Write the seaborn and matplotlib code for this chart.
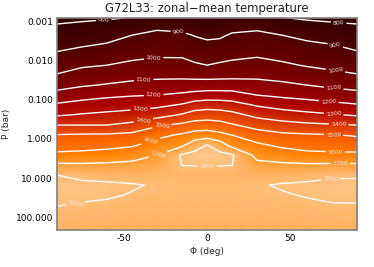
import numpy as np
import seaborn as sns
import matplotlib
matplotlib.use("Agg")
import matplotlib.pyplot as plt
from matplotlib.colors import LinearSegmentedColormap

# ---------------- data ----------------
latitudes = [-90, -75, -60, -45, -30, -15, -7.5, 0, 7.5, 15, 30, 45, 60, 75, 90]
pressures = [0.00079, 0.00126, 0.00227, 0.00408, 0.00733, 0.0132, 0.0237,
             0.0425, 0.0763, 0.137, 0.246, 0.443, 0.796, 1.43, 2.57, 4.62,
             8.29, 14.9, 26.8, 48.1, 86.4, 221.0]

# temperature profiles (K) at each latitude, top -> bottom
T_m90 = [775, 804, 839, 875, 914, 959, 1006, 1065, 1133, 1215, 1292, 1400, 1505, 1558, 1620, 1717, 1800, 1815, 1815, 1802, 1785, 1765]
T_m75 = [782, 814, 853, 892, 939, 988, 1038, 1090, 1162, 1236, 1309, 1400, 1511, 1563, 1627, 1714, 1786, 1812, 1810, 1796, 1782, 1765]
T_m60 = [789, 823, 866, 909, 955, 1000, 1053, 1107, 1181, 1252, 1323, 1400, 1512, 1571, 1642, 1718, 1779, 1810, 1806, 1792, 1780, 1765]
T_m45 = [800, 844, 900, 938, 977, 1020, 1068, 1124, 1193, 1264, 1338, 1425, 1525, 1588, 1662, 1724, 1771, 1805, 1797, 1787, 1778, 1765]
T_m30 = [821, 876, 922, 956, 990, 1032, 1077, 1133, 1200, 1277, 1364, 1486, 1575, 1641, 1700, 1745, 1780, 1795, 1790, 1783, 1776, 1765]
T_m15 = [826, 868, 915, 952, 989, 1032, 1077, 1138, 1218, 1310, 1411, 1520, 1613, 1680, 1810, 1801, 1778, 1788, 1787, 1781, 1775, 1765]
T_m08 = [827, 858, 896, 933, 970, 1012, 1071, 1142, 1233, 1344, 1445, 1540, 1640, 1757, 1825, 1802, 1776, 1786, 1786, 1780, 1775, 1765]
T_p00 = [818, 846, 882, 920, 960, 1000, 1067, 1145, 1244, 1356, 1455, 1545, 1650, 1802, 1835, 1803, 1775, 1785, 1785, 1780, 1775, 1765]
T_p08 = [821, 850, 886, 925, 967, 1012, 1071, 1145, 1244, 1353, 1448, 1536, 1627, 1750, 1825, 1802, 1776, 1786, 1786, 1780, 1775, 1765]
T_p15 = [825, 865, 910, 945, 979, 1021, 1074, 1145, 1240, 1340, 1431, 1509, 1600, 1667, 1810, 1801, 1778, 1788, 1787, 1781, 1775, 1765]
T_p30 = [820, 873, 921, 956, 991, 1033, 1078, 1133, 1200, 1291, 1375, 1464, 1546, 1617, 1672, 1725, 1770, 1795, 1791, 1784, 1777, 1765]
T_p45 = [800, 844, 900, 937, 974, 1015, 1065, 1119, 1181, 1261, 1348, 1436, 1519, 1581, 1650, 1717, 1772, 1805, 1796, 1787, 1778, 1765]
T_p60 = [785, 825, 875, 919, 956, 993, 1044, 1100, 1167, 1242, 1327, 1420, 1511, 1563, 1627, 1713, 1780, 1810, 1803, 1792, 1780, 1765]
T_p75 = [777, 814, 859, 904, 941, 978, 1023, 1080, 1148, 1225, 1310, 1410, 1505, 1558, 1620, 1715, 1792, 1814, 1810, 1797, 1783, 1765]
T_p90 = [775, 804, 841, 878, 917, 961, 1006, 1065, 1131, 1208, 1292, 1400, 1491, 1553, 1620, 1715, 1792, 1815, 1812, 1797, 1784, 1765]

contour_levels = [800, 900, 1000, 1100, 1200, 1300, 1400, 1500, 1600, 1700, 1800]
ytick_values = [0.001, 0.01, 0.1, 1.0, 10.0, 100.0]
ytick_labels = ["0.001", "0.010", "0.100", "1.000", "10.000", "100.000"]
xtick_values = [-50, 0, 50]

title = "G72L33: zonal\u2212mean temperature"
xlabel = "\u03a6 (deg)"
ylabel = "P (bar)"

# ---------------- style ----------------
sns.set_style("ticks")
plt.rcParams["font.family"] = ["DejaVu Sans"]

T = np.column_stack([T_m90, T_m75, T_m60, T_m45, T_m30, T_m15, T_m08, T_p00,
                     T_p08, T_p15, T_p30, T_p45, T_p60, T_p75, T_p90]).astype(float)
lat = np.array(latitudes, float)
logp = np.log10(np.array(pressures, float))

# IDL "red temperature" style colour table
cmap = LinearSegmentedColormap.from_list(
    "redtemp",
    [(0.0, (0, 0, 0)),
     (120 / 255, (174 / 255, 0, 0)),
     (176 / 255, (1, 106 / 255, 0)),
     (190 / 255, (1, 132 / 255, 0)),
     (1.0, (1, 1, 1))])

fig = plt.figure(figsize=(3.74, 2.67), dpi=100)
ax = fig.add_axes([57 / 374, 1 - 230 / 267, 300 / 374, 212 / 267])

ax.pcolormesh(lat, logp, T, shading="gouraud", cmap=cmap, vmin=600, vmax=1990,
              rasterized=True)
cs = ax.contour(lat, logp, T, levels=contour_levels, colors="white",
                linewidths=1.0)

label_pos = [(-62, -3.05), (-17, -2.80), (-32, -2.06), (-38, -1.50), (-32, -1.09),
             (-40, -0.74), (-38, -0.43), (-27, -0.30), (-34, 0.03), (-30, 0.33),
             (-79, 1.63), (0, 0.69),
             (79, -2.97), (77, -2.39), (77, -1.73), (76, -1.27), (73, -0.94),
             (76, -0.64), (79, -0.38), (76, -0.15), (77, 0.36), (80, 0.61),
             (74, 0.94)]
ax.clabel(cs, manual=label_pos, inline=True, inline_spacing=2, fmt="%d",
          fontsize=4.5, colors="#f4e6e6")

ax.set_yticks(np.log10(ytick_values))
ax.set_yticklabels(ytick_labels)
minor_y = [np.log10(m * d) for d in [0.0001, 0.001, 0.01, 0.1, 1, 10, 100]
           for m in range(2, 10)]
ax.set_yticks(minor_y, minor=True)
ax.set_xticks(xtick_values)
ax.set_xticklabels([str(v) for v in xtick_values])
ax.set_xticks(range(-80, 90, 10), minor=True)

ax.set_xlim(-90, 90)
ax.set_ylim(np.log10(208), np.log10(0.00083))

ax.tick_params(which="both", direction="in", top=True, right=True,
               colors="black", labelsize=6.5, width=0.7, pad=3)
ax.tick_params(which="major", length=4)
ax.tick_params(which="minor", length=2.2)
for s in ax.spines.values():
    s.set_color("#808080")
    s.set_linewidth(1.2)
    s.set_zorder(5)

ax.set_title(title, fontsize=8.4, pad=4, color="#222222")
ax.set_xlabel(xlabel, fontsize=6.5, labelpad=3)
ax.set_ylabel(ylabel, fontsize=6.5, labelpad=3)

fig.savefig("out.png", dpi=100)
